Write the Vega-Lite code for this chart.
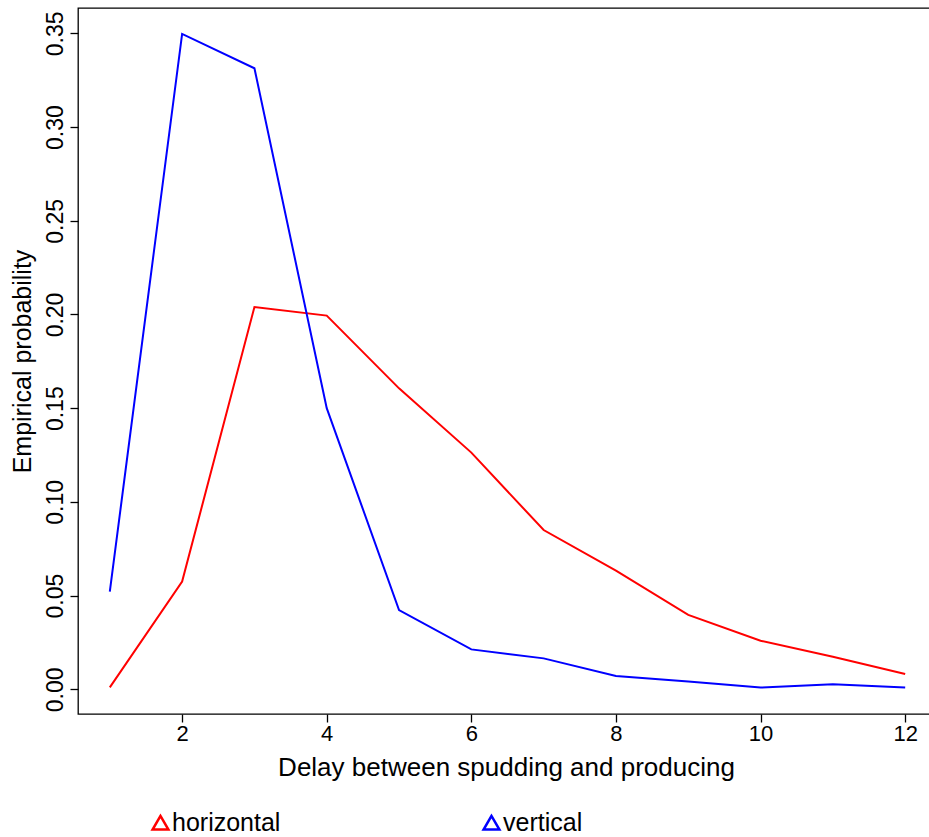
{
  "$schema": "https://vega.github.io/schema/vega-lite/v6.json",
  "width": 859,
  "height": 706,
  "autosize": {"type": "none"},
  "padding": {"left": 78, "top": 8, "right": 0, "bottom": 123},
  "background": "white",
  "config": {
    "view": {"stroke": "black", "strokeWidth": 1.3},
    "font": "Liberation Sans",
    "axis": {"grid": false, "domain": false, "tickColor": "black", "tickSize": 8, "tickWidth": 1.3, "labelColor": "black", "titleColor": "black", "labelFont": "Liberation Sans", "titleFont": "Liberation Sans", "titleFontWeight": "normal"}
  },
  "data": {
    "values": [
      {"delay": 1, "type": "horizontal", "p": 0.001},
      {"delay": 2, "type": "horizontal", "p": 0.0575},
      {"delay": 3, "type": "horizontal", "p": 0.204},
      {"delay": 4, "type": "horizontal", "p": 0.1994},
      {"delay": 5, "type": "horizontal", "p": 0.1606},
      {"delay": 6, "type": "horizontal", "p": 0.1263},
      {"delay": 7, "type": "horizontal", "p": 0.085},
      {"delay": 8, "type": "horizontal", "p": 0.0633},
      {"delay": 9, "type": "horizontal", "p": 0.0397},
      {"delay": 10, "type": "horizontal", "p": 0.0259},
      {"delay": 11, "type": "horizontal", "p": 0.0174},
      {"delay": 12, "type": "horizontal", "p": 0.0082},
      {"delay": 1, "type": "vertical", "p": 0.0521},
      {"delay": 2, "type": "vertical", "p": 0.3497},
      {"delay": 3, "type": "vertical", "p": 0.3314},
      {"delay": 4, "type": "vertical", "p": 0.150},
      {"delay": 5, "type": "vertical", "p": 0.0423},
      {"delay": 6, "type": "vertical", "p": 0.0213},
      {"delay": 7, "type": "vertical", "p": 0.0165},
      {"delay": 8, "type": "vertical", "p": 0.0071},
      {"delay": 9, "type": "vertical", "p": 0.0041},
      {"delay": 10, "type": "vertical", "p": 0.0009},
      {"delay": 11, "type": "vertical", "p": 0.0027},
      {"delay": 12, "type": "vertical", "p": 0.0009}
    ]
  },
  "mark": {"type": "line", "strokeWidth": 2, "clip": true},
  "encoding": {
    "x": {
      "field": "delay", "type": "quantitative",
      "scale": {"domain": [0.56, 12.44], "nice": false, "zero": false},
      "axis": {"values": [2, 4, 6, 8, 10, 12], "labelFontSize": 22, "labelPadding": 1, "title": "Delay between spudding and producing", "titleFontSize": 26, "titleBaseline": "alphabetic", "titleY": 61, "titleX": 428}
    },
    "y": {
      "field": "p", "type": "quantitative",
      "scale": {"domain": [-0.01318, 0.36355], "nice": false, "zero": false},
      "axis": {"values": [0, 0.05, 0.1, 0.15, 0.2, 0.25, 0.3, 0.35], "format": ".2f", "labelFontSize": 23, "labelAngle": -90, "labelAlign": "center", "labelBaseline": "alphabetic", "labelPadding": 8, "title": "Empirical probability", "titleFontSize": 25, "titleAngle": -90, "titleBaseline": "alphabetic", "titleAlign": "center", "titleX": -48, "titleY": 353}
    },
    "color": {
      "field": "type", "type": "nominal",
      "scale": {"domain": ["horizontal", "vertical"], "range": ["#FF0000", "#0000FF"]},
      "legend": {"title": null, "orient": "none", "legendX": 70, "legendY": 802, "direction": "horizontal", "symbolType": "triangle-up", "symbolSize": 250, "symbolStrokeWidth": 2.5, "symbolFillColor": "transparent", "labelFontSize": 25, "labelColor": "black", "labelFont": "Liberation Sans", "labelOffset": -1, "columnPadding": 197, "padding": 0}
    }
  }
}
